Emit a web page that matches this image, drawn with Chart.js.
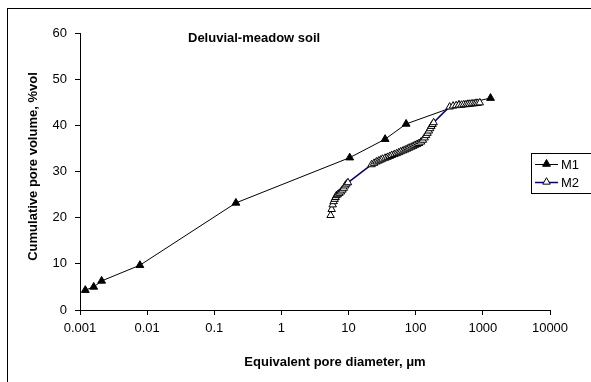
<!DOCTYPE html>
<html>
<head>
<meta charset="utf-8">
<script src="https://cdn.jsdelivr.net/npm/chart.js@4"></script>
<style>
  html, body { margin: 0; padding: 0; background: #fff; }
  #wrap { width: 591px; height: 382px; position: relative; }
</style>
</head>
<body>
<div id="wrap"><canvas id="chart" width="591" height="382"></canvas></div>
<script>
// M1 series: pore diameter (um) and cumulative volume (%vol)
const m1Diam = [0.0012, 0.0016, 0.0021, 0.0078, 0.21, 10.4, 35, 72, 440, 1300]
const m1Vol  = [4.3, 5.0, 6.3, 9.7, 23.2, 33.0, 37.0, 40.3, 44.4, 45.9]

// M2 series
const m2Diam = [
  5.4, 5.6, 5.8, 6.0, 6.2, 6.4, 6.6, 6.9, 7.3, 7.7, 8.1, 8.5, 8.9, 9.3, 9.8,
  22, 24, 26, 28, 30, 32, 35, 38, 41, 44, 48, 52, 56, 60, 65, 70, 75, 80, 86, 92, 98,
  105, 112, 120, 128, 136, 143, 150, 157, 164, 171, 178, 185,
  320, 360, 400, 440, 480, 520, 560, 600, 640, 690, 740, 790, 840, 900
]
const m2Vol = [
  20.5, 21.8, 22.8, 23.5, 24.0, 24.4, 24.8, 25.0, 25.3, 25.6, 26.0, 26.4, 26.9, 27.3, 27.6,
  31.5, 31.8, 32.1, 32.3, 32.5, 32.7, 32.9, 33.1, 33.3, 33.5, 33.7, 33.9, 34.1, 34.3, 34.5, 34.7, 34.9, 35.1, 35.3, 35.5, 35.7,
  35.9, 36.1, 36.4, 36.8, 37.3, 37.8, 38.3, 38.8, 39.3, 39.8, 40.2, 40.6,
  44.0, 44.2, 44.3, 44.4, 44.4, 44.5, 44.5, 44.6, 44.6, 44.7, 44.7, 44.8, 44.8, 44.9
]

const seriesNames = ['M1', 'M2']
const xTicks = [0.001, 0.01, 0.1, 1, 10, 100, 1000, 10000]
const xTickLabels = ['0.001', '0.01', '0.1', '1', '10', '100', '1000', '10000']
const yTicks = [0, 10, 20, 30, 40, 50, 60]

const chartTitle = 'Deluvial-meadow soil'
const xTitle = 'Equivalent pore diameter, μm'
const yTitle = 'Cumulative pore volume, %vol'

const FONT = '"Liberation Sans", Arial, sans-serif'

function toPoints(xs, ys) {
  return xs.map((x, i) => ({ x: x, y: ys[i] }))
}

// frame, titles and boxed legend, drawn like the Excel original
const decor = {
  id: 'decor',
  beforeDraw(chart) {
    const ctx = chart.ctx
    ctx.save()
    ctx.fillStyle = '#fff'
    ctx.fillRect(0, 0, chart.width, chart.height)
    ctx.strokeStyle = '#000'
    ctx.lineWidth = 1
    ctx.strokeRect(7.5, 8.5, 700, 500)
    ctx.restore()
  },
  afterDraw(chart) {
    const ctx = chart.ctx
    const area = chart.chartArea
    ctx.save()
    ctx.fillStyle = '#000'
    ctx.font = 'bold 13px ' + FONT
    ctx.textBaseline = 'middle'
    ctx.textAlign = 'left'
    ctx.fillText(chartTitle, 188, 38)

    ctx.textAlign = 'center'
    ctx.fillText(xTitle, 335, 362)

    ctx.save()
    ctx.translate(33, (area.top + area.bottom) / 2 - 5)
    ctx.rotate(-Math.PI / 2)
    ctx.fillText(yTitle, 0, 0)
    ctx.restore()

    // legend box
    ctx.strokeStyle = '#000'
    ctx.lineWidth = 1
    ctx.strokeRect(531.5, 153.5, 80, 40)
    ctx.font = '13px ' + FONT
    ctx.textAlign = 'left'
    const rows = [164, 182]
    chart.data.datasets.forEach((ds, i) => {
      const y = rows[i]
      ctx.strokeStyle = ds.borderColor
      ctx.lineWidth = ds.borderWidth
      ctx.beginPath()
      ctx.moveTo(535, y + 0.5)
      ctx.lineTo(558, y + 0.5)
      ctx.stroke()
      const r = ds.pointRadius
      ctx.fillStyle = ds.pointBackgroundColor
      ctx.strokeStyle = ds.pointBorderColor
      ctx.lineWidth = 1
      ctx.beginPath()
      ctx.moveTo(546.5, y - r)
      ctx.lineTo(546.5 + r * 0.866, y + r / 2)
      ctx.lineTo(546.5 - r * 0.866, y + r / 2)
      ctx.closePath()
      ctx.fill()
      ctx.stroke()
      ctx.fillStyle = '#000'
      ctx.fillText(seriesNames[i], 561, y + 1)
    })
    ctx.restore()
  }
}

new Chart(document.getElementById('chart').getContext('2d'), {
  type: 'scatter',
  data: {
    datasets: [
      {
        label: seriesNames[0],
        data: toPoints(m1Diam, m1Vol),
        showLine: true,
        borderColor: '#000',
        borderWidth: 1,
        pointStyle: 'triangle',
        pointRadius: 4.5,
        pointBackgroundColor: '#000',
        pointBorderColor: '#000',
        pointBorderWidth: 1,
        order: 1
      },
      {
        label: seriesNames[1],
        data: toPoints(m2Diam, m2Vol),
        showLine: true,
        borderColor: '#000080',
        borderWidth: 1.5,
        tension: 0.2,
        pointStyle: 'triangle',
        pointRadius: 4.3,
        pointBackgroundColor: '#fff',
        pointBorderColor: '#000',
        pointBorderWidth: 1,
        order: 0
      }
    ]
  },
  options: {
    responsive: false,
    animation: false,
    layout: { padding: { left: 0, top: 33, right: 41, bottom: 0 } },
    plugins: {
      legend: { display: false },
      tooltip: { enabled: false }
    },
    scales: {
      x: {
        type: 'logarithmic',
        min: 0.001,
        max: 10000,
        afterFit: axis => { axis.height = 72 },
        afterBuildTicks: axis => { axis.ticks = xTicks.map(v => ({ value: v })) },
        grid: { drawOnChartArea: false, color: '#000', tickLength: 5 },
        border: { color: '#000', width: 1 },
        ticks: {
          color: '#000',
          font: { family: FONT, size: 13 },
          padding: 6,
          maxRotation: 0,
          autoSkip: false,
          callback: (v, i) => xTickLabels[i]
        }
      },
      y: {
        min: 0,
        max: 60,
        afterFit: axis => { axis.width = 80 },
        afterBuildTicks: axis => { axis.ticks = yTicks.map(v => ({ value: v })) },
        grid: { drawOnChartArea: false, color: '#000', tickLength: 5 },
        border: { color: '#000', width: 1 },
        ticks: {
          color: '#000',
          font: { family: FONT, size: 13 },
          padding: 8,
          callback: v => String(v)
        }
      }
    }
  },
  plugins: [decor]
})
</script>
</body>
</html>
